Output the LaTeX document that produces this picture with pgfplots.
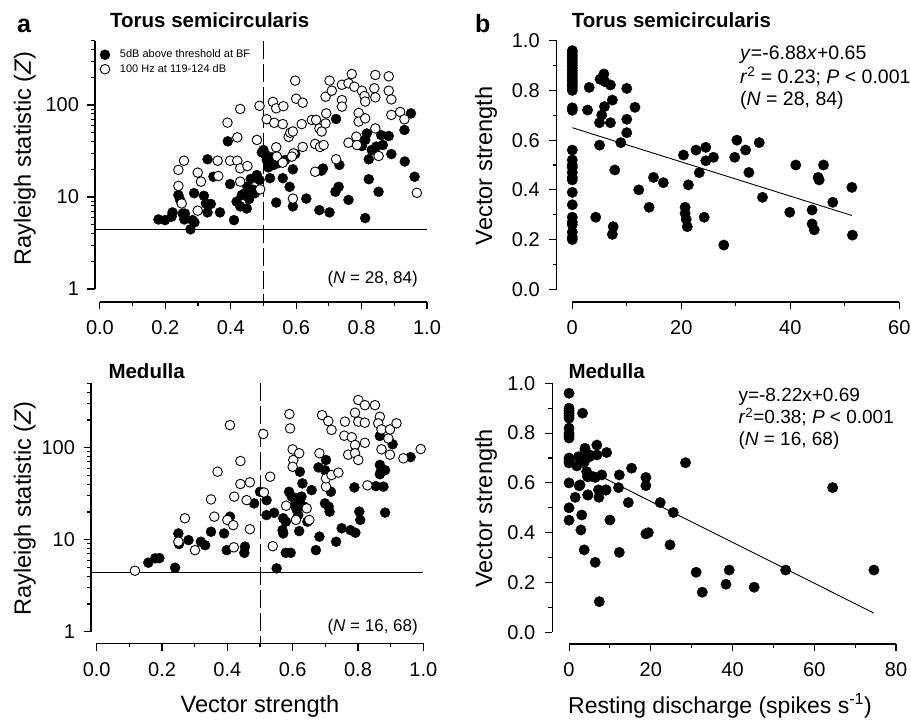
\documentclass[border=0pt]{standalone}
\usepackage{pgfplots}
\pgfplotsset{compat=1.18}
\usepackage{fontspec}
\setmainfont{Liberation Sans}
\newcommand\fs[1]{\fontsize{#1}{#1}\selectfont}

\pgfplotsset{
  myaxis/.style={
    scale only axis, anchor=south west,
    axis x line*=bottom, axis y line*=left,
    axis line style={draw=none},
    tick align=outside,
    major tick length=7.5pt, minor tick length=4pt,
    tick style={black, line width=1.1pt},
    tick label style={font=\fs{20}, text=black},
    xticklabel style={yshift=-8pt},
    yticklabel style={xshift=-5pt},
    clip=false,
  },
  filled/.style={only marks, mark=*, mark size=5pt, mark options={draw=black, fill=black}},
  open/.style={only marks, mark=*, mark size=4.8pt, mark options={draw=black, fill=white, line width=0.9pt}},
  dot/.style={only marks, mark=*, mark size=5.2pt, mark options={draw=black, fill=black}},
}

\begin{document}
\begin{tikzpicture}
\useasboundingbox (0,0) rectangle (911pt,720pt);

% ---------------- top left ----------------
\begin{axis}[myaxis, at={(95pt,418pt)}, width=332pt, height=261.3pt,
  xmin=-0.015, xmax=1.0, ymode=log, ymin=0.722, ymax=500,
  xtick={0,0.2,0.4,0.6,0.8,1.0}, xticklabels={0.0,0.2,0.4,0.6,0.8,1.0},
  minor xtick={0.1,0.3,0.5,0.7,0.9},
  ytick={1,10,100}, yticklabels={1,10,100},
  minor ytick={2,3,4,5,6,7,8,9,20,30,40,50,60,70,80,90,200,300,400,500},
  legend image code/.code={\draw[#1] plot coordinates {(0pt,0pt)}; \path[draw=none, fill=none] (-6pt,-5pt) rectangle (13pt,5pt);},
  legend style={at={(axis description cs:0.012,0.972)}, anchor=north west, draw=none, fill=none,
    inner sep=0pt, outer sep=0pt, font=\fs{11}, row sep=1pt, nodes={inner sep=2pt}},
  legend cell align=left]
\draw[line width=1.3pt] (axis cs:-0.015,1) -- (axis cs:-0.015,500);
\draw[line width=1.3pt] (axis cs:0,0.722) -- (axis cs:1,0.722);
\draw[line width=0.9pt] (axis cs:-0.015,4.4) -- (axis cs:1,4.4);
\draw[line width=0.9pt, dash pattern=on 18pt off 5pt] (axis cs:0.5,500) -- (axis cs:0.5,0.722);
\addplot[filled] coordinates {(0.179,5.7) (0.199,5.6) (0.219,6.1) (0.222,6.8) (0.240,10.5) (0.245,9.3) (0.253,6.6) (0.258,5.7) (0.260,6.6) (0.277,4.45) (0.283,5.6) (0.289,5.3) (0.288,11) (0.318,10.3) (0.324,8.5) (0.329,6.8) (0.339,8.4) (0.329,25.7) (0.347,16.6) (0.367,6.8) (0.391,40.3) (0.398,13.8) (0.410,5.6) (0.418,8.9) (0.429,7.9) (0.434,10.5) (0.449,7.5) (0.444,11) (0.451,12.9) (0.456,9.5) (0.461,15.7) (0.468,12) (0.474,11) (0.480,17.3) (0.488,15.3) (0.495,30.5) (0.500,32.4) (0.507,28.6) (0.510,25.2) (0.515,21) (0.520,16) (0.525,27) (0.531,22.3) (0.539,8.7) (0.545,23.3) (0.559,16) (0.566,25.2) (0.580,12.9) (0.590,20) (0.590,7.9) (0.597,29.3) (0.631,9.6) (0.671,7.2) (0.702,6.8) (0.677,19.3) (0.682,20.4) (0.722,70.4) (0.732,22.3) (0.720,11.4) (0.730,12.9) (0.760,9.3) (0.801,35.8) (0.811,41.7) (0.816,49) (0.831,32.4) (0.822,25.7) (0.811,5.9) (0.822,15.6) (0.845,35.3) (0.852,11.4) (0.860,47) (0.865,36.7) (0.883,46) (0.891,29.3) (0.931,53.5) (0.932,24.3) (0.951,81) (0.962,16.6)};
\addplot[open] coordinates {(0.240,19.7) (0.257,24.8) (0.240,13.2) (0.250,8.5) (0.299,18.4) (0.309,14.7) (0.299,7.1) (0.360,24.8) (0.362,16.9) (0.390,64.3) (0.398,24.8) (0.420,44.5) (0.420,24.8) (0.429,20.5) (0.429,14.7) (0.429,90.5) (0.451,21.7) (0.480,41.7) (0.490,12.1) (0.488,98) (0.510,70) (0.529,108) (0.533,64) (0.539,92) (0.561,97) (0.559,62) (0.539,34.7) (0.541,27.5) (0.559,23.6) (0.577,45) (0.582,50) (0.590,51.5) (0.592,29.8) (0.587,27.5) (0.590,9.6) (0.597,184) (0.600,117) (0.620,106) (0.617,62) (0.620,35) (0.648,68.8) (0.658,37.7) (0.661,68.8) (0.671,55.6) (0.678,51.5) (0.673,35) (0.684,36.7) (0.690,63) (0.692,81) (0.690,123) (0.702,184) (0.709,143) (0.658,18.8) (0.722,25.7) (0.740,113) (0.740,96) (0.740,166) (0.760,172) (0.770,217) (0.778,158) (0.760,38.9) (0.784,45.2) (0.791,82) (0.791,66) (0.801,143) (0.809,125) (0.811,109) (0.811,71.5) (0.786,36.7) (0.842,212) (0.839,152) (0.842,121) (0.842,55.6) (0.852,27.9) (0.883,205) (0.883,143) (0.891,115) (0.891,78) (0.918,84) (0.931,70) (0.969,11.1)};
\legend{5dB above threshold at BF, 100 Hz at 119-124 dB}
\end{axis}

% ---------------- top right ----------------
\begin{axis}[myaxis, at={(556.7pt,418pt)}, width=342.6pt, height=261.3pt,
  xmin=-2.86, xmax=60, ymin=-0.051, ymax=1.0,
  xtick={0,20,40,60}, minor xtick={10,30,50},
  ytick={0,0.2,0.4,0.6,0.8,1.0}, yticklabels={0.0,0.2,0.4,0.6,0.8,1.0},
  minor ytick={0.1,0.3,0.5,0.7,0.9},
  yticklabel style={xshift=-1pt},
  xticklabels={0,20,40,60}]
\draw[line width=1.3pt] (axis cs:-2.86,0) -- (axis cs:-2.86,1);
\draw[line width=1.3pt] (axis cs:0,-0.051) -- (axis cs:60,-0.051);
\draw[line width=0.9pt] (axis cs:0,0.65) -- (axis cs:51.3,0.297);
\addplot[dot] coordinates {(0,0.96) (0,0.95) (0,0.94) (0,0.93) (0,0.92) (0,0.91) (0,0.90) (0,0.89) (0,0.88) (0,0.87) (0,0.86) (0,0.85) (0,0.84) (0,0.83) (0,0.82) (0,0.81) (0,0.80) (0,0.73) (0,0.72) (0,0.56) (0,0.52) (0,0.50) (0,0.49) (0,0.47) (0,0.45) (0,0.44) (0,0.39) (0,0.34) (0,0.29) (0,0.27) (0,0.26) (0,0.23) (0,0.21) (0,0.20)
 (3.1,0.812) (2.8,0.721) (4.3,0.290) (5.1,0.845) (5.0,0.580) (5.8,0.866) (6.0,0.835) (7.0,0.822) (5.0,0.670) (5.4,0.701) (5.9,0.735) (7.35,0.761) (7.0,0.670) (7.8,0.480) (7.5,0.252) (7.35,0.221) (8.9,0.590) (10.0,0.808) (10.0,0.684) (10.0,0.630) (11.5,0.732) (12.2,0.400) (14.1,0.330) (14.9,0.450) (16.7,0.429) (20.4,0.540) (20.7,0.330) (20.7,0.306) (20.9,0.282) (21.1,0.252) (21.3,0.420) (22.7,0.560) (23.3,0.469) (24.5,0.571) (24.5,0.517) (25.9,0.531) (24.2,0.290) (27.8,0.178) (29.8,0.531) (30.2,0.600) (31.8,0.560) (32.4,0.470) (34.3,0.590) (34.9,0.370) (39.9,0.310) (41.0,0.500) (44.0,0.319) (44.0,0.263) (44.4,0.239) (45.1,0.450) (45.3,0.440) (46.1,0.500) (47.8,0.350) (51.3,0.410) (51.4,0.218)};
\end{axis}

% ---------------- bottom left ----------------
\begin{axis}[myaxis, at={(91pt,76.7pt)}, width=332.3pt, height=259.9pt,
  xmin=-0.0175, xmax=1.0, ymode=log, ymin=0.748, ymax=500,
  xtick={0,0.2,0.4,0.6,0.8,1.0}, xticklabels={0.0,0.2,0.4,0.6,0.8,1.0},
  minor xtick={0.1,0.3,0.5,0.7,0.9},
  ytick={1,10,100}, yticklabels={1,10,100},
  minor ytick={2,3,4,5,6,7,8,9,20,30,40,50,60,70,80,90,200,300,400,500}]
\draw[line width=1.3pt] (axis cs:-0.0175,1) -- (axis cs:-0.0175,500);
\draw[line width=1.3pt] (axis cs:0,0.748) -- (axis cs:1,0.748);
\draw[line width=0.9pt] (axis cs:-0.0175,4.4) -- (axis cs:1,4.4);
\draw[line width=0.9pt, dash pattern=on 18pt off 5pt] (axis cs:0.5,500) -- (axis cs:0.5,0.748);
\addplot[filled] coordinates {(0.158,5.62) (0.179,6.27) (0.192,6.3) (0.240,4.96) (0.250,11.7) (0.252,8.97) (0.281,9.9) (0.319,9.5) (0.332,8.7) (0.350,12.2) (0.390,11.7) (0.398,7.7) (0.408,17.8) (0.454,8.4) (0.452,7.2) (0.482,24.8) (0.500,33.2) (0.520,26.9) (0.520,18.5) (0.543,19.6) (0.551,4.88) (0.569,12.7) (0.571,11.7) (0.579,15.7) (0.579,7.2) (0.594,7.2) (0.589,33.2) (0.597,29.4) (0.607,23.9) (0.612,28.2) (0.617,18.5) (0.622,54.8) (0.620,12.4) (0.630,40.9) (0.627,29.4) (0.635,22.9) (0.645,15.7) (0.658,34.6) (0.671,7.7) (0.682,10.8) (0.679,61) (0.702,73.5) (0.699,57) (0.699,24.8) (0.710,22.9) (0.713,20.2) (0.717,33.2) (0.733,9.5) (0.750,13.3) (0.777,12.7) (0.792,11.9) (0.789,37) (0.804,20.2) (0.807,16.4) (0.855,38.2) (0.867,134) (0.867,65) (0.870,54.9) (0.878,37.7) (0.883,57) (0.883,19.7) (0.906,109) (0.961,79) (0.571,17.1) (0.622,25.3) (0.612,21.4) (0.867,51.5)};
\addplot[open] coordinates {(0.117,4.6) (0.250,9.5) (0.270,17.1) (0.301,7.7) (0.350,27.4) (0.360,17.8) (0.370,54.8) (0.400,16.4) (0.418,14.4) (0.421,29.4) (0.420,8.26) (0.408,176) (0.440,71.6) (0.440,40.3) (0.459,26.9) (0.469,42) (0.469,13) (0.510,141) (0.512,32.6) (0.531,48.4) (0.539,8.5) (0.580,23.4) (0.590,232) (0.592,162) (0.600,95.8) (0.602,73.5) (0.600,62) (0.620,87) (0.610,16.4) (0.643,21.9) (0.651,16.4) (0.682,87) (0.690,226) (0.709,195) (0.719,156) (0.702,37.7) (0.702,46.4) (0.719,50.4) (0.740,53.6) (0.760,192) (0.758,135) (0.770,84) (0.781,130) (0.791,107) (0.791,87) (0.801,73.5) (0.791,240) (0.801,330) (0.821,290) (0.801,192) (0.821,187) (0.821,113) (0.829,39) (0.852,290) (0.867,217) (0.862,184) (0.872,158) (0.872,96) (0.893,126) (0.898,84) (0.898,158) (0.918,184) (0.939,76.6) (0.992,96.7)};
\end{axis}

% ---------------- bottom right ----------------
\begin{axis}[myaxis, at={(552.3pt,76pt)}, width=343.7pt, height=260.7pt,
  xmin=-4.1, xmax=80, ymin=-0.047, ymax=1.0,
  xtick={0,20,40,60,80}, xticklabels={0,20,40,60,80}, minor xtick={10,30,50,70},
  ytick={0,0.2,0.4,0.6,0.8,1.0}, yticklabels={0.0,0.2,0.4,0.6,0.8,1.0},
  yticklabel style={xshift=-1pt},
  minor ytick={0.1,0.3,0.5,0.7,0.9}]
\draw[line width=1.3pt] (axis cs:-4.1,0) -- (axis cs:-4.1,1);
\draw[line width=1.3pt] (axis cs:0,-0.047) -- (axis cs:80,-0.047);
\draw[line width=0.9pt] (axis cs:0,0.69) -- (axis cs:74.6,0.077);
\addplot[dot] coordinates {(0,0.96) (0,0.90) (0,0.89) (0,0.88) (0,0.87) (0,0.86) (0,0.82) (0,0.80) (0,0.79) (0,0.78) (0,0.70) (0,0.69) (0,0.68) (0,0.60) (0,0.50) (0,0.45)
 (3.3,0.880) (1.9,0.668) (1.5,0.542) (2.5,0.588) (2.9,0.699) (3.1,0.471) (2.9,0.411) (3.7,0.331) (3.9,0.732) (3.75,0.685) (4.3,0.645) (4.5,0.625) (4.6,0.552) (5.0,0.705) (6.4,0.622) (6.8,0.752) (6.8,0.712) (7.2,0.572) (7.3,0.542) (6.4,0.281) (7.4,0.123) (8.0,0.632) (9.2,0.722) (9.05,0.572) (10.0,0.451) (12.3,0.632) (12.1,0.581) (12.3,0.321) (14.5,0.521) (15.3,0.659) (18.8,0.622) (18.8,0.589) (18.8,0.395) (19.4,0.400) (22.3,0.521) (24.7,0.351) (25.5,0.481) (28.5,0.681) (31.1,0.241) (32.6,0.161) (38.4,0.193) (39.2,0.250) (45.3,0.181) (53.0,0.250) (64.5,0.581) (74.6,0.250)
 (2.3,0.705) (3.5,0.692) (5.1,0.712) (2.7,0.592) (5.9,0.625) (4.7,0.625) (9.0,0.571) (4.6,0.551) (3.9,0.739)};
\end{axis}

% ---------------- texts ----------------
\node[anchor=base west, inner sep=0, font=\bfseries\fs{25}] at (17pt,687pt) {a};
\node[anchor=base west, inner sep=0, font=\bfseries\fs{25}] at (475pt,687pt) {b};
\node[anchor=base west, inner sep=0, font=\bfseries\fs{20.5}] at (110pt,692.7pt) {Torus semicircularis};
\node[anchor=base west, inner sep=0, font=\bfseries\fs{20.5}] at (571.7pt,692.7pt) {Torus semicircularis};
\node[anchor=base west, inner sep=0, font=\bfseries\fs{20.5}] at (108.3pt,341pt) {Medulla};
\node[anchor=base west, inner sep=0, font=\bfseries\fs{20.5}] at (568.3pt,341pt) {Medulla};

\node[rotate=90, anchor=base, inner sep=0, font=\fs{23.6}] at (31pt,561.5pt) {Rayleigh statistic (\textit{Z})};
\node[rotate=90, anchor=base, inner sep=0, font=\fs{23.6}] at (31pt,211.4pt) {Rayleigh statistic (\textit{Z})};
\node[rotate=90, anchor=base, inner sep=0, font=\fs{23.6}] at (492pt,554.2pt) {Vector strength};
\node[rotate=90, anchor=base, inner sep=0, font=\fs{23.6}] at (492pt,211.7pt) {Vector strength};
\node[anchor=base, inner sep=0, font=\fs{23.6}] at (260pt,7.3pt) {Vector strength};
\node[anchor=base, inner sep=0, font=\fs{23}] at (720pt,6.7pt) {Resting discharge (spikes s\textsuperscript{-1})};

\node[anchor=east, inner sep=0, font=\fs{17}] at (418pt,440.7pt) {(\textit{N} = 28, 84)};
\node[anchor=east, inner sep=0, font=\fs{17}] at (418pt,93.3pt) {(\textit{N} = 16, 68)};

\node[anchor=base west, inner sep=0, font=\fs{19.5}] at (740pt,660pt) {\textit{y}=-6.88\textit{x}+0.65};
\node[anchor=base west, inner sep=0, font=\fs{19.5}] at (740pt,636pt) {\textit{r}\textsuperscript{2} = 0.23; \textit{P} < 0.001};
\node[anchor=base west, inner sep=0, font=\fs{19.5}] at (740pt,614pt) {(\textit{N} = 28, 84)};

\node[anchor=base west, inner sep=0, font=\fs{19}] at (738.3pt,318pt) {y=-8.22x+0.69};
\node[anchor=base west, inner sep=0, font=\fs{19}] at (738.3pt,296pt) {\textit{r}\textsuperscript{2}=0.38; \textit{P} < 0.001};
\node[anchor=base west, inner sep=0, font=\fs{19}] at (738.3pt,274.5pt) {(\textit{N} = 16, 68)};
\end{tikzpicture}
\end{document}
